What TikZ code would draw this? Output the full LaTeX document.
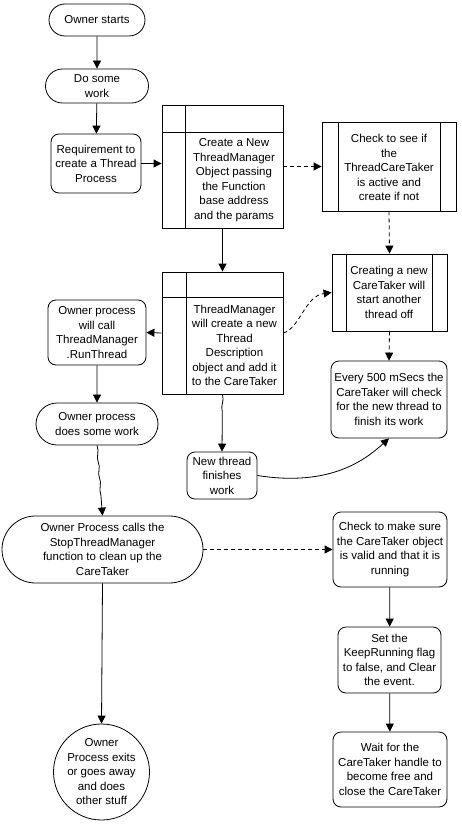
\documentclass[tikz,border=0pt]{standalone}
\usepackage{fontspec}
\setmainfont{Liberation Sans}
\usetikzlibrary{shapes.misc,shapes.geometric,arrows.meta,decorations.pathmorphing}
\begin{document}
\begin{tikzpicture}[x=1pt,y=-1pt,
  font=\fontsize{11.5}{14.5}\selectfont,
  every node/.style={inner sep=0pt, align=center},
  line width=0.8pt,
  >={Triangle[length=8pt,width=8pt]},
  stadium/.style={draw, rounded rectangle, rounded rectangle arc length=180},
  rbox/.style={draw, rectangle, rounded corners=8pt},
  sbox/.style={draw, rectangle},
  plain/.style={draw=none},
  dsh/.style={dash pattern=on 4pt off 3pt},
  wavy/.style={decorate, decoration={snake, amplitude=0.6pt, segment length=16pt, post length=14pt}}
]
\useasboundingbox (0,0) rectangle (462,824);

% left column
\node[stadium, minimum width=96pt, minimum height=32pt] (n1) at (97,20) {Owner starts};
\node[stadium, minimum width=103pt, minimum height=34pt] (n2) at (97,86) {Do some\\work};
\node[rbox, minimum width=90pt, minimum height=59pt] (n3) at (96,163.5) {Requirement to\\create a Thread\\Process};

% ThreadManager object box
\node[sbox, minimum width=121pt, minimum height=123pt] (n4) at (222.5,166.5) {};
\draw (185,105) -- (185,228);
\draw (162,132) -- (283,132);
\node[plain] (n4t) at (234,180) {Create a New\\ThreadManager\\Object passing\\the Function\\base address\\and the params};

% Check to see
\node[sbox, minimum width=134pt, minimum height=89pt] (n5) at (389,166.5) {};
\draw (338,122) -- (338,211);
\draw (440,122) -- (440,211);
\node[plain] (n5t) at (389,167.5) {Check to see if\\the\\ThreadCareTaker\\is active and\\create if not};

% Creating a new CareTaker
\node[sbox, minimum width=115pt, minimum height=77pt] (n6) at (389.5,292.5) {};
\draw (346,254) -- (346,331);
\draw (432,254) -- (432,331);
\node[plain] (n6t) at (389,292.5) {Creating a new\\CareTaker will\\start another\\thread off};

% ThreadManager will create
\node[sbox, minimum width=121pt, minimum height=122pt] (n7) at (222.5,333) {};
\draw (186,272) -- (186,394);
\draw (162,297) -- (283,297);
\node[plain] (n7t) at (234.5,345.5) {ThreadManager\\will create a new\\Thread\\Description\\object and add it\\to the CareTaker};

\node[rbox, minimum width=98pt, minimum height=65pt] (n8) at (97,332.5) {Owner process\\will call\\ThreadManager\\.RunThread};
\node[stadium, minimum width=122pt, minimum height=42pt] (n9) at (97,424) {Owner process\\does some work};
\node[rbox, minimum width=70pt, minimum height=47pt] (n10) at (222,475.5) {New thread\\finishes\\work};
\node[rbox, minimum width=116pt, minimum height=77pt] (n11) at (389,399.5) {Every 500 mSecs the\\CareTaker will check\\for the new thread to\\finish its work};
\node[stadium, minimum width=201pt, minimum height=67pt] (n12) at (102.5,549.5) {Owner Process calls the\\StopThreadManager\\function to clean up the\\CareTaker};
\node[rbox, minimum width=114pt, minimum height=75pt] (n13) at (390,549.5) {Check to make sure\\the CareTaker object\\is valid and that it is\\running};
\node[rbox, minimum width=103pt, minimum height=66pt] (n14) at (389.5,660) {Set the\\KeepRunning flag\\to false, and Clear\\the event.};
\node[rbox, minimum width=114pt, minimum height=75pt] (n15) at (390,769.5) {Wait for the\\CareTaker handle to\\become free and\\close the CareTaker};
\node[draw, circle, minimum size=96pt] (n16) at (101.5,772) {Owner\\Process exits\\or goes away\\and does\\other stuff};

% connectors
\draw[->] (n1) -- (n2);
\draw[->] (n2) -- (n3);
\draw[->] (n3.east) -- (n4.west |- n3.east);
\draw[->, dsh] (n4.east) -- (n5.west);
\draw[->, dsh] (n5.south) -- (n6.north);
\draw[->] (n4.south) -- (n7.north);
\draw[->] (n7.west) -- (n8.east);
\draw[->, dsh] (n7.east) .. controls (300,328) and (305,296) .. (n6.west);
\draw[->, dsh] (n6.south) -- (n11.north);
\draw[->] (n8) -- (n9);
\draw[->, wavy] (n9.south) -- (n12.north);
\draw[->, wavy, decoration={post length=36pt}] (n7.south) -- (n10.north);
\draw[->] (n10.east) .. controls (330,487) and (365,460) .. (n11.south);
\draw[->, dsh] (n12.east) -- (n13.west);
\draw[->] (n12.south) -- (n16.north);
\draw[->] (n13) -- (n14);
\draw[->] (n14) -- (n15);
\end{tikzpicture}
\end{document}
